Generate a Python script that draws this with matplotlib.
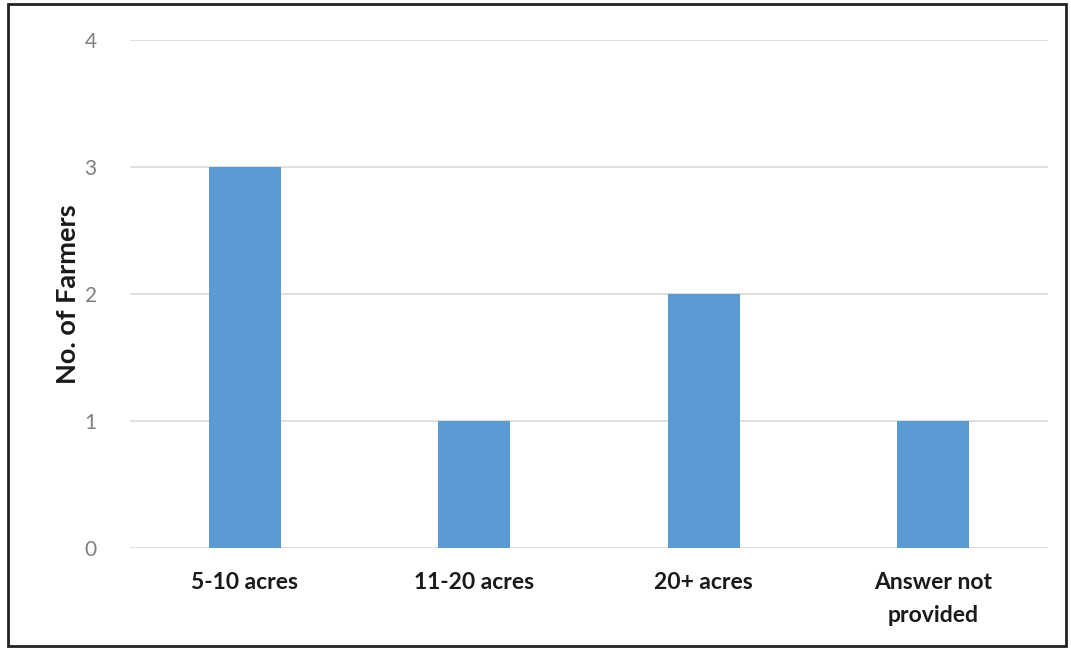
import matplotlib
matplotlib.use("Agg")
import matplotlib.pyplot as plt
from matplotlib.patches import Rectangle

categories = ["5-10 acres", "11-20 acres", "20+ acres", "Answer not\nprovided"]
values = [3, 1, 2, 1]
yticks = [0, 1, 2, 3, 4]

plt.rcParams['font.family'] = ['Lato', 'DejaVu Sans']

fig = plt.figure(figsize=(10.71, 6.49), dpi=100)
ax = fig.add_axes([130/1071, 1-548/649, (1048-130)/1071, (548-40)/649])

x = list(range(len(categories)))
ax.bar(x, values, width=0.315, color="#5B9BD5", zorder=3)
ax.set_xlim(-0.5, len(categories)-0.5)
ax.set_ylim(0, 4)
ax.set_yticks(yticks)
ax.set_yticklabels([str(t) for t in yticks], color="#7F7F7F", fontsize=15)
ax.set_xticks(x)
ax.set_xticklabels(categories, fontsize=16.5, fontweight="bold", color="#1a1a1a", linespacing=1.7, va="top")
ax.tick_params(axis="both", length=0)
ax.tick_params(axis="y", pad=24)
ax.tick_params(axis="x", pad=17)
ax.yaxis.grid(True, color="#D9D9D9", linewidth=1.2, zorder=0)
for s in ax.spines.values():
    s.set_visible(False)
ax.set_ylabel("No. of Farmers", fontsize=19.5, fontweight="bold", color="#1a1a1a", labelpad=3)

fig.patches.append(Rectangle((8/1071, 1-646/649), (1066-8)/1071, (646-4)/649,
                             transform=fig.transFigure, fill=False,
                             edgecolor="#222222", linewidth=2))
fig.savefig("out.png", dpi=100)
